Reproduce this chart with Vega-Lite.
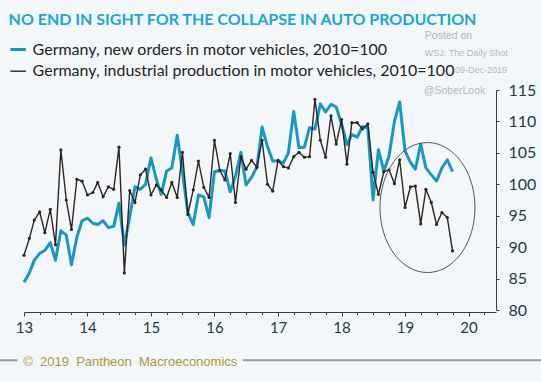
{
  "$schema": "https://vega.github.io/schema/vega-lite/v6.json",
  "width": 472,
  "height": 220,
  "autosize": "none",
  "padding": {"left": 24, "top": 90, "right": 45, "bottom": 72},
  "background": "#f4f7f9",
  "title": {
    "text": "NO END IN SIGHT FOR THE COLLAPSE IN AUTO PRODUCTION",
    "anchor": "start",
    "frame": "group",
    "dx": -15.4,
    "offset": -10,
    "baseline": "alphabetic",
    "font": "Lato",
    "fontSize": 16,
    "fontWeight": "bold",
    "color": "#1aa7d6"
  },
  "config": {
    "view": {"stroke": null},
    "font": "Lato"
  },
  "datasets": {
    "series": [
      {"date": "2013-01-01", "orders": 84.4, "production": 88.7},
      {"date": "2013-02-01", "orders": 85.9, "production": 91.4},
      {"date": "2013-03-01", "orders": 87.9, "production": 94.3},
      {"date": "2013-04-01", "orders": 89.0, "production": 95.6},
      {"date": "2013-05-01", "orders": 89.5, "production": 92.3},
      {"date": "2013-06-01", "orders": 90.7, "production": 96.0},
      {"date": "2013-07-01", "orders": 87.9, "production": 90.4},
      {"date": "2013-08-01", "orders": 92.6, "production": 105.5},
      {"date": "2013-09-01", "orders": 91.9, "production": 97.5},
      {"date": "2013-10-01", "orders": 87.2, "production": 92.8},
      {"date": "2013-11-01", "orders": 91.6, "production": 100.8},
      {"date": "2013-12-01", "orders": 94.2, "production": 100.5},
      {"date": "2014-01-01", "orders": 94.6, "production": 98.3},
      {"date": "2014-02-01", "orders": 93.8, "production": 98.7},
      {"date": "2014-03-01", "orders": 93.6, "production": 100.3},
      {"date": "2014-04-01", "orders": 94.2, "production": 98.0},
      {"date": "2014-05-01", "orders": 93.1, "production": 99.6},
      {"date": "2014-06-01", "orders": 93.3, "production": 99.2},
      {"date": "2014-07-01", "orders": 97.0, "production": 105.9},
      {"date": "2014-08-01", "orders": 90.3, "production": 85.9},
      {"date": "2014-09-01", "orders": 94.8, "production": 99.0},
      {"date": "2014-10-01", "orders": 99.6, "production": 97.1},
      {"date": "2014-11-01", "orders": 99.2, "production": 101.5},
      {"date": "2014-12-01", "orders": 100.0, "production": 102.4},
      {"date": "2015-01-01", "orders": 104.2, "production": 98.3},
      {"date": "2015-02-01", "orders": 100.8, "production": 99.9},
      {"date": "2015-03-01", "orders": 98.4, "production": 99.1},
      {"date": "2015-04-01", "orders": 102.1, "production": 97.9},
      {"date": "2015-05-01", "orders": 102.6, "production": 100.3},
      {"date": "2015-06-01", "orders": 107.8, "production": 97.9},
      {"date": "2015-07-01", "orders": 102.0, "production": 105.1},
      {"date": "2015-08-01", "orders": 95.5, "production": 95.2},
      {"date": "2015-09-01", "orders": 93.6, "production": 99.1},
      {"date": "2015-10-01", "orders": 98.3, "production": 103.7},
      {"date": "2015-11-01", "orders": 98.0, "production": 99.5},
      {"date": "2015-12-01", "orders": 94.7, "production": 97.9},
      {"date": "2016-01-01", "orders": 102.0, "production": 107.0},
      {"date": "2016-02-01", "orders": 102.2, "production": 102.2},
      {"date": "2016-03-01", "orders": 102.1, "production": 100.7},
      {"date": "2016-04-01", "orders": 98.8, "production": 104.9},
      {"date": "2016-05-01", "orders": 101.3, "production": 97.1},
      {"date": "2016-06-01", "orders": 105.1, "production": 104.4},
      {"date": "2016-07-01", "orders": 99.9, "production": 102.4},
      {"date": "2016-08-01", "orders": 101.1, "production": 103.8},
      {"date": "2016-09-01", "orders": 102.7, "production": 102.7},
      {"date": "2016-10-01", "orders": 109.1, "production": 107.0},
      {"date": "2016-11-01", "orders": 106.0, "production": 100.0},
      {"date": "2016-12-01", "orders": 103.7, "production": 98.9},
      {"date": "2017-01-01", "orders": 103.7, "production": 103.8},
      {"date": "2017-02-01", "orders": 103.4, "production": 102.8},
      {"date": "2017-03-01", "orders": 105.0, "production": 102.6},
      {"date": "2017-04-01", "orders": 111.6, "production": 104.4},
      {"date": "2017-05-01", "orders": 105.8, "production": 105.1},
      {"date": "2017-06-01", "orders": 105.9, "production": 104.3},
      {"date": "2017-07-01", "orders": 109.0, "production": 104.4},
      {"date": "2017-08-01", "orders": 108.8, "production": 113.5},
      {"date": "2017-09-01", "orders": 112.8, "production": 107.0},
      {"date": "2017-10-01", "orders": 111.5, "production": 104.3},
      {"date": "2017-11-01", "orders": 112.7, "production": 110.9},
      {"date": "2017-12-01", "orders": 112.3, "production": 106.4},
      {"date": "2018-01-01", "orders": 109.6, "production": 110.3},
      {"date": "2018-02-01", "orders": 106.3, "production": 103.2},
      {"date": "2018-03-01", "orders": 107.9, "production": 109.8},
      {"date": "2018-04-01", "orders": 107.5, "production": 109.8},
      {"date": "2018-05-01", "orders": 109.2, "production": 108.8},
      {"date": "2018-06-01", "orders": 109.0, "production": 109.6},
      {"date": "2018-07-01", "orders": 97.5, "production": 101.9},
      {"date": "2018-08-01", "orders": 105.5, "production": 98.4},
      {"date": "2018-09-01", "orders": 102.1, "production": 102.0},
      {"date": "2018-10-01", "orders": 104.5, "production": 102.3},
      {"date": "2018-11-01", "orders": 110.0, "production": 100.1},
      {"date": "2018-12-01", "orders": 113.1, "production": 103.9},
      {"date": "2019-01-01", "orders": 105.3, "production": 96.3},
      {"date": "2019-02-01", "orders": 103.5, "production": 99.6},
      {"date": "2019-03-01", "orders": 102.4, "production": 99.7},
      {"date": "2019-04-01", "orders": 106.4, "production": 93.7},
      {"date": "2019-05-01", "orders": 102.6, "production": 99.2},
      {"date": "2019-06-01", "orders": 101.5, "production": 97.1},
      {"date": "2019-07-01", "orders": 100.5, "production": 93.6},
      {"date": "2019-08-01", "orders": 102.6, "production": 95.5},
      {"date": "2019-09-01", "orders": 103.9, "production": 94.7},
      {"date": "2019-10-01", "orders": 102.0, "production": 89.4}
    ]
  },
  "layer": [
    {
      "data": {"name": "series"},
      "transform": [{"fold": ["orders", "production"], "as": ["series", "value"]}],
      "mark": {"type": "line", "strokeJoin": "round"},
      "encoding": {
        "x": {
          "field": "date",
          "type": "temporal",
          "scale": {"type": "utc", "domain": [{"year": 2013, "month": 1, "date": 1, "utc": true}, {"year": 2020, "month": 6, "date": 7, "utc": true}]},
          "axis": {
            "orient": "bottom",
            "offset": 2,
            "tickCount": {"interval": "month", "step": 3},
            "labelExpr": "utcmonth(datum.value) === 0 ? utcFormat(datum.value, '%y') : ''",
            "labelOverlap": false,
            "labelFlush": false,
            "tickSize": {"condition": {"test": "utcmonth(datum.value) === 0", "value": 4}, "value": 2.5},
            "domainColor": "#3a3a3a",
            "tickColor": "#3a3a3a",
            "labelFont": "Lato",
            "labelFontSize": 15,
            "labelColor": "#1f3a45",
            "labelPadding": 4,
            "grid": false,
            "title": "©\u00a0 2019\u00a0 Pantheon\u00a0 Macroeconomics",
            "titleX": -1.3,
            "titleY": 53.3,
            "titleAlign": "left",
            "titleAnchor": "start",
            "titleBaseline": "alphabetic",
            "titleFont": "Liberation Sans",
            "titleFontSize": 13,
            "titleFontWeight": "normal",
            "titleColor": "#a8983c"
          }
        },
        "y": {
          "field": "value",
          "type": "quantitative",
          "scale": {"domain": [80, 115], "nice": false, "zero": false},
          "axis": {
            "orient": "right",
            "values": [80, 85, 90, 95, 100, 105, 110, 115],
            "tickCount": 8,
            "tickSize": 3,
            "labelPadding": 9,
            "labelOverlap": false,
            "labelFlush": false,
            "domainColor": "#3a3a3a",
            "tickColor": "#3a3a3a",
            "labelFont": "Lato",
            "labelFontSize": 16,
            "labelColor": "#1f3a45",
            "labelAlign": "left",
            "labelBaseline": "middle",
            "grid": false,
            "title": null
          }
        },
        "color": {
          "field": "series",
          "type": "nominal",
          "scale": {"domain": ["orders", "production"], "range": ["#1a96c4", "#2a2523"]},
          "legend": {
            "orient": "none",
            "legendX": -15.4,
            "legendY": -50,
            "title": null,
            "symbolType": "stroke",
            "symbolSize": 240,
            "symbolStrokeWidth": 3,
            "labelFont": "Lato",
            "labelFontSize": 16,
            "labelColor": "#222222",
            "labelLimit": 600,
            "labelOffset": 5,
            "rowPadding": 4.7,
            "labelExpr": "datum.value === 'orders' ? 'Germany, new orders in motor vehicles, 2010=100' : 'Germany, industrial production in motor vehicles, 2010=100'",
            "encode": {"symbols": {"update": {"strokeWidth": {"signal": "datum.value === 'orders' ? 3 : 1.5"}}}}
          }
        },
        "strokeWidth": {
          "field": "series",
          "type": "nominal",
          "scale": {"domain": ["orders", "production"], "range": [3, 1.4]},
          "legend": null
        }
      }
    },
    {
      "data": {"name": "series"},
      "mark": {"type": "point", "filled": true, "size": 10, "color": "#2a2523", "opacity": 1},
      "encoding": {
        "x": {"field": "date", "type": "temporal"},
        "y": {"field": "production", "type": "quantitative"}
      }
    },
    {
      "data": {"values": [
        {"label": "Posted on", "date": "2019-04-25", "value": 123.6},
        {"label": "@SoberLook", "date": "2019-04-19", "value": 114.9}
      ]},
      "mark": {"type": "text", "align": "left", "baseline": "middle", "font": "Liberation Sans", "fontSize": 10.5, "color": "#b5b5b5"},
      "encoding": {
        "x": {"field": "date", "type": "temporal"},
        "y": {"field": "value", "type": "quantitative"},
        "text": {"field": "label"}
      }
    },
    {
      "data": {"values": [
        {"label": "WSJ: The Daily Shot", "date": "2019-04-25", "value": 120.9},
        {"label": "09-Dec-2019", "date": "2019-10-15", "value": 118.2}
      ]},
      "mark": {"type": "text", "align": "left", "baseline": "middle", "font": "Liberation Sans", "fontSize": 9, "color": "#b5b5b5"},
      "encoding": {
        "x": {"field": "date", "type": "temporal"},
        "y": {"field": "value", "type": "quantitative"},
        "text": {"field": "label"}
      }
    },
    {
      "data": {"values": [{"date": "2019-05-10", "value": 96.3}]},
      "mark": {"type": "point", "shape": "M -0.731 0 A 0.731 1 0 1 1 0.731 0 A 0.731 1 0 1 1 -0.731 0 Z", "size": 16900, "filled": false, "stroke": "#4a585e", "strokeWidth": 1, "opacity": 1},
      "encoding": {
        "x": {"field": "date", "type": "temporal"},
        "y": {"field": "value", "type": "quantitative"}
      }
    },
    {
      "data": {"values": [
        {"start": "2012-08-01", "end": "2012-11-25"},
        {"start": "2016-06-13", "end": "2021-06-01"}
      ]},
      "mark": {"type": "rule", "color": "#8f9ea6", "strokeWidth": 2, "clip": false},
      "encoding": {
        "x": {"field": "start", "type": "temporal"},
        "x2": {"field": "end"},
        "y": {"datum": 72}
      }
    }
  ]
}
